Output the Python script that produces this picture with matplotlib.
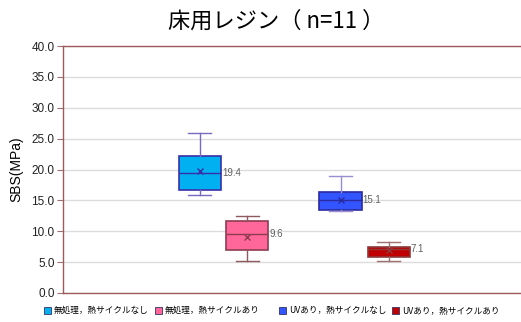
import matplotlib
matplotlib.use("Agg")
import matplotlib.pyplot as plt
from matplotlib.patches import Rectangle

plt.rcParams['font.family'] = ['Liberation Sans', 'Noto Sans CJK JP', 'DejaVu Sans']

# box statistics per condition
labels = ["無処理，熱サイクルなし", "無処理，熱サイクルあり", "UVあり，熱サイクルなし", "UVあり，熱サイクルあり"]
whislo = [15.9, 5.2, 13.2, 5.1]
q1 = [16.7, 6.9, 13.4, 5.9]
med = [19.4, 9.6, 15.1, 7.1]
q3 = [22.2, 11.6, 16.4, 7.4]
whishi = [25.9, 12.4, 18.9, 8.3]
mean = [19.7, 9.0, 15.1, 6.9]

fills = ["#00B0F0", "#FF6699", "#3355FF", "#C00000"]
edges = ["#3B2FA8", "#8E3C50", "#2A2AA0", "#8E3A3A"]
whisk = ["#7A68C0", "#8E5A60", "#9A8CD0", "#A07070"]
positions = [0.299, 0.402, 0.606, 0.711]

fig = plt.figure(figsize=(5.21, 3.22), dpi=100)
ax = fig.add_axes([0.1209, 0.0901, 0.8791, 0.7670])

for i in range(len(labels)):
    st = [dict(whislo=whislo[i], q1=q1[i], med=med[i], q3=q3[i],
               whishi=whishi[i], mean=mean[i], fliers=[])]
    ax.bxp(st, positions=[positions[i]], widths=0.092, patch_artist=True,
           showmeans=True, manage_ticks=False,
           boxprops=dict(facecolor=fills[i], edgecolor=edges[i], linewidth=1.2),
           medianprops=dict(color=edges[i], linewidth=1.0),
           whiskerprops=dict(color=whisk[i], linewidth=1.0),
           capprops=dict(color=whisk[i], linewidth=1.0),
           capwidths=0.05,
           meanprops=dict(marker='x', markeredgecolor=edges[i], markersize=4, markeredgewidth=1.0))
    ax.text(positions[i] + 0.048, med[i], f"{med[i]:.1f}", fontsize=7,
            color="#606060", va='center', ha='left')

ax.set_xlim(0, 1)
ax.set_ylim(0, 40)
ax.set_yticks(range(0, 41, 5))
ax.set_yticklabels([f"{v:.1f}" for v in range(0, 41, 5)], fontsize=8.5, color="#222222")
ax.set_xticks([])
ax.yaxis.grid(True, color="#DCDCDC", linewidth=1.0)
ax.set_axisbelow(True)
ax.tick_params(axis='y', length=4, color="#A07070", pad=2)
for s in ['top', 'bottom', 'left']:
    ax.spines[s].set_color("#9E5A5A")
    ax.spines[s].set_linewidth(1.0)
ax.spines['right'].set_visible(False)

ax.set_ylabel("SBS(MPa)", fontsize=10, labelpad=6)
fig.text(0.53, 0.935, "床用レジン（ n=11 ）", ha='center', va='center', fontsize=16,
         family=['Noto Sans CJK JP', 'DejaVu Sans'])

# legend along the bottom
leg_x = [44, 155, 279, 392]
for i in range(len(labels)):
    x0 = leg_x[i] / 521
    fig.patches.append(Rectangle((x0, 0.0245), 7 / 521, 7 / 322, transform=fig.transFigure,
                                 facecolor=fills[i], edgecolor="#333366", linewidth=0.6))
    fig.text(x0 + 10 / 521, 0.035, labels[i], fontsize=6.2, va='center', ha='left',
             family=['Noto Sans CJK JP', 'DejaVu Sans'])

fig.savefig("out.png", dpi=100)
